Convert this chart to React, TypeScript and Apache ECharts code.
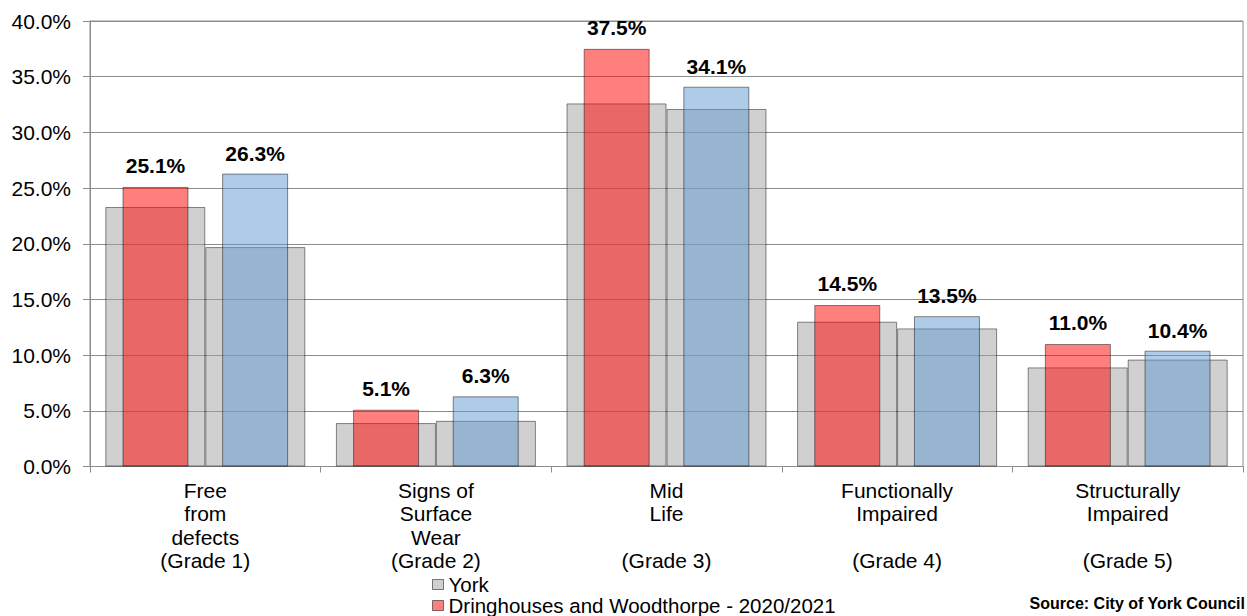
import React, { useEffect, useRef } from "react";
import * as echarts from "echarts";

const categories = [
  "Free\nfrom\ndefects\n(Grade 1)",
  "Signs of\nSurface\nWear\n(Grade 2)",
  "Mid\nLife\n\n(Grade 3)",
  "Functionally\nImpaired\n\n(Grade 4)",
  "Structurally\nImpaired\n\n(Grade 5)",
];
const yorkFirst = [23.3, 3.9, 32.6, 13.0, 8.9];
const yorkSecond = [19.7, 4.1, 32.1, 12.4, 9.6];
const dringhouses2020 = [25.1, 5.1, 37.5, 14.5, 11.0];
const dringhousesOther = [26.3, 6.3, 34.1, 13.5, 10.4];
const yMin = 0;
const yMax = 40;
const yStep = 5;
const legendItems = ["York", "Dringhouses and Woodthorpe - 2020/2021"];
const sourceText = "Source: City of York Council";

const FONT = "'Liberation Sans', Arial, sans-serif";
const AXIS_GREY = "#8c8c8c";
const BORDER = "rgba(0,0,0,0.45)";

export default function App() {
  const ref = useRef<HTMLDivElement>(null);
  useEffect(() => {
    if (!ref.current) return;
    const chart = echarts.init(ref.current, null, { renderer: "svg" });
    const pct = (v: number) => v.toFixed(1) + "%";
    chart.setOption({
      animation: false,
      textStyle: { fontFamily: FONT, color: "#000" },
      grid: {
        left: 90,
        right: 4,
        top: 21,
        bottom: 149.5,
        show: true,
        borderColor: AXIS_GREY,
        borderWidth: 1,
      },
      legend: {
        data: legendItems,
        orient: "vertical",
        left: 432,
        top: 574,
        padding: 0,
        itemGap: 0,
        itemWidth: 11,
        itemHeight: 10,
        icon: "rect",
        itemStyle: { borderColor: "rgba(0,0,0,0.5)", borderWidth: 1 },
        textStyle: { fontFamily: FONT, fontSize: 20.5, lineHeight: 19, color: "#000" },
      },
      xAxis: [
        {
          type: "category",
          data: categories,
          axisLine: { lineStyle: { color: AXIS_GREY } },
          axisTick: { show: true, length: 6, lineStyle: { color: AXIS_GREY } },
          axisLabel: {
            interval: 0,
            fontFamily: FONT,
            fontSize: 21,
            lineHeight: 23.5,
            color: "#000",
            margin: 12,
            align: "center",
          },
        },
        { type: "category", data: categories, show: false },
      ],
      yAxis: {
        type: "value",
        min: yMin,
        max: yMax,
        interval: yStep,
        axisLine: { show: true, lineStyle: { color: AXIS_GREY } },
        axisTick: { show: true, length: 7, lineStyle: { color: AXIS_GREY } },
        splitLine: { show: true, lineStyle: { color: AXIS_GREY, width: 1 } },
        axisLabel: {
          formatter: (v: number) => pct(v),
          fontFamily: FONT,
          fontSize: 21,
          color: "#000",
          margin: 19,
        },
      },
      graphic: [
        {
          type: "text",
          x: 1245,
          y: 603,
          style: {
            text: sourceText,
            font: "bold 16px 'Liberation Sans', Arial, sans-serif",
            fill: "#000",
            textAlign: "right",
            textVerticalAlign: "middle",
          },
        },
      ],
      series: [
        {
          name: "York",
          type: "bar",
          xAxisIndex: 0,
          data: yorkFirst,
          barWidth: 100,
          barGap: "0%",
          itemStyle: { color: "rgba(161,161,161,0.5)", borderColor: BORDER, borderWidth: 1 },
        },
        {
          name: "York",
          type: "bar",
          xAxisIndex: 0,
          data: yorkSecond,
          barWidth: 100,
          barGap: "0%",
          itemStyle: { color: "rgba(161,161,161,0.5)", borderColor: BORDER, borderWidth: 1 },
        },
        {
          name: "Dringhouses and Woodthorpe - 2020/2021",
          type: "bar",
          xAxisIndex: 1,
          data: dringhouses2020,
          barWidth: 66,
          barGap: "51%",
          itemStyle: { color: "rgba(255,0,0,0.5)", borderColor: BORDER, borderWidth: 1 },
          label: {
            show: true,
            position: "top",
            distance: 11,
            formatter: (p: any) => pct(p.value),
            fontFamily: FONT,
            fontSize: 21,
            fontWeight: "bold",
            color: "#000",
          },
        },
        {
          name: "Dringhouses and Woodthorpe - other year",
          type: "bar",
          xAxisIndex: 1,
          data: dringhousesOther,
          barWidth: 66,
          barGap: "51%",
          itemStyle: { color: "rgba(93,151,209,0.5)", borderColor: BORDER, borderWidth: 1 },
          label: {
            show: true,
            position: "top",
            distance: 10,
            formatter: (p: any) => pct(p.value),
            fontFamily: FONT,
            fontSize: 21,
            fontWeight: "bold",
            color: "#000",
          },
        },
      ],
    });
    return () => chart.dispose();
  }, []);
  return (
    <div
      ref={ref}
      style={{ position: "fixed", left: 0, top: 0, width: 1247, height: 616, background: "#fff" }}
    />
  );
}
